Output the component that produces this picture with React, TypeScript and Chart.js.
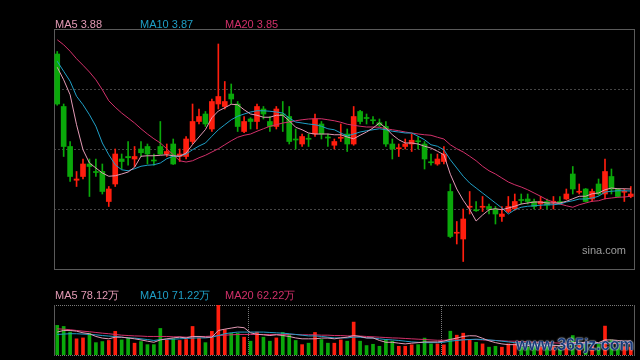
import React, { useEffect, useRef } from "react";
import { Chart, registerables } from "chart.js";

Chart.register(...registerables);

// ---------- daily candles (price) ----------
const OPEN = [
  4.42, 4.21, 4.05, 3.915, 3.93, 3.98, 3.95, 3.95, 3.83, 3.9,
  4.0, 4.01, 4.0, 4.04, 4.05, 3.996, 4.05, 4.02, 4.06, 4.01,
  4.01, 4.07, 4.15, 4.18, 4.12, 4.22, 4.21, 4.26, 4.22, 4.11,
  4.16, 4.15, 4.2, 4.15, 4.13, 4.18, 4.17, 4.08, 4.06, 4.083,
  4.1, 4.14, 4.088, 4.055, 4.083, 4.1, 4.06, 4.19, 4.166, 4.157,
  4.145, 4.13, 4.06, 4.041, 4.05, 4.06, 4.073, 4.06, 3.989, 3.98,
  3.99, 3.87, 3.703, 3.68, 3.807, 3.797, 3.807, 3.81, 3.8, 3.77,
  3.79, 3.8, 3.838, 3.84, 3.83, 3.82, 3.83, 3.827, 3.83, 3.84,
  3.94, 3.867, 3.88, 3.84, 3.9, 3.86, 3.93, 3.88, 3.867, 3.85,
];
const HIGH = [
  4.43, 4.22, 4.07, 3.95, 4.0, 4.0, 4.0, 3.98, 3.89, 4.04,
  4.02, 4.07, 4.05, 4.07, 4.06, 4.02, 4.15, 4.06, 4.08, 4.04,
  4.09, 4.22, 4.2, 4.19, 4.24, 4.46, 4.31, 4.3, 4.23, 4.17,
  4.165, 4.22, 4.21, 4.17, 4.21, 4.23, 4.21, 4.12, 4.1, 4.1,
  4.18, 4.15, 4.1, 4.08, 4.14, 4.12, 4.21, 4.195, 4.18, 4.17,
  4.16, 4.15, 4.08, 4.06, 4.08, 4.1, 4.09, 4.07, 4.02, 4.02,
  4.05, 3.9, 3.75, 3.8, 3.87, 3.83, 3.85, 3.82, 3.81, 3.81,
  3.85, 3.86, 3.86, 3.86, 3.84, 3.85, 3.84, 3.85, 3.85, 3.88,
  3.97, 3.9, 3.882, 3.88, 3.92, 4.0, 3.96, 3.882, 3.88, 3.89,
];
const LOW = [
  4.215, 4.01, 3.91, 3.89, 3.92, 3.85, 3.93, 3.86, 3.81, 3.89,
  3.96, 3.975, 3.97, 4.01, 3.98, 3.975, 4.018, 4.01, 3.978, 3.99,
  4.0, 4.06, 4.14, 4.13, 4.11, 4.2, 4.2, 4.22, 4.11, 4.105,
  4.12, 4.12, 4.16, 4.11, 4.12, 4.11, 4.06, 4.04, 4.05, 4.05,
  4.09, 4.08, 4.05, 4.04, 4.07, 4.03, 4.055, 4.14, 4.14, 4.14,
  4.13, 4.05, 4.0, 4.01, 4.04, 4.03, 4.04, 3.96, 3.975, 3.975,
  3.98, 3.685, 3.66, 3.59, 3.78, 3.79, 3.79, 3.78, 3.74, 3.75,
  3.785, 3.795, 3.82, 3.82, 3.8, 3.8, 3.8, 3.8, 3.82, 3.838,
  3.86, 3.86, 3.828, 3.83, 3.855, 3.84, 3.86, 3.848, 3.83, 3.845,
];
const CLOSE = [
  4.22, 4.05, 3.93, 3.92, 3.98, 3.97, 3.946, 3.87, 3.88, 4.02,
  3.99, 4.005, 4.01, 4.025, 4.02, 3.992, 4.02, 4.03, 3.98, 4.02,
  4.08, 4.15, 4.17, 4.14, 4.23, 4.25, 4.23, 4.24, 4.13, 4.15,
  4.15, 4.21, 4.18, 4.13, 4.2, 4.175, 4.07, 4.076, 4.09, 4.079,
  4.16, 4.1, 4.084, 4.07, 4.087, 4.06, 4.17, 4.15, 4.162, 4.153,
  4.135, 4.06, 4.04, 4.045, 4.06, 4.075, 4.069, 4.0, 3.985, 4.0,
  4.02, 3.69, 3.707, 3.76, 3.811, 3.793, 3.811, 3.8, 3.78, 3.78,
  3.81, 3.83, 3.834, 3.83, 3.81, 3.83, 3.815, 3.831, 3.825, 3.86,
  3.88, 3.871, 3.83, 3.87, 3.86, 3.95, 3.88, 3.85, 3.871, 3.86,
];

// ---------- price moving averages ----------
const MA5 = [
  4.367, 4.317, 4.257, 4.137, 4.037, 3.984, 3.964, 3.944, 3.931, 3.933,
  3.94, 3.948, 3.967, 4.011, 4.013, 4.013, 4.015, 4.017, 4.013, 4.011,
  4.024, 4.058, 4.088, 4.118, 4.165, 4.192, 4.205, 4.219, 4.217, 4.197,
  4.18, 4.175, 4.167, 4.167, 4.175, 4.175, 4.153, 4.127, 4.117, 4.104,
  4.1, 4.1, 4.1, 4.097, 4.097, 4.088, 4.081, 4.095, 4.108, 4.124,
  4.144, 4.124, 4.097, 4.077, 4.064, 4.064, 4.06, 4.051, 4.044, 4.031,
  4.017, 3.939, 3.88, 3.835, 3.798, 3.752, 3.776, 3.797, 3.801, 3.797,
  3.804, 3.811, 3.82, 3.824, 3.828, 3.828, 3.824, 3.824, 3.824, 3.831,
  3.841, 3.851, 3.851, 3.861, 3.864, 3.877, 3.884, 3.881, 3.881, 3.88,
];
const MA10 = [
  4.391, 4.351, 4.311, 4.251, 4.217, 4.177, 4.131, 4.064, 4.017, 3.977,
  3.957, 3.953, 3.961, 3.971, 3.975, 3.977, 3.984, 4.001, 4.011, 4.011,
  4.02, 4.037, 4.052, 4.064, 4.091, 4.117, 4.137, 4.157, 4.171, 4.18,
  4.188, 4.193, 4.193, 4.191, 4.188, 4.184, 4.164, 4.148, 4.144, 4.14,
  4.137, 4.131, 4.121, 4.117, 4.104, 4.092, 4.1, 4.108, 4.113, 4.117,
  4.121, 4.117, 4.111, 4.108, 4.104, 4.104, 4.091, 4.077, 4.057, 4.051,
  4.037, 3.997, 3.964, 3.931, 3.904, 3.884, 3.864, 3.844, 3.824, 3.804,
  3.78, 3.797, 3.807, 3.811, 3.813, 3.815, 3.817, 3.817, 3.82, 3.828,
  3.833, 3.84, 3.84, 3.844, 3.851, 3.868, 3.871, 3.873, 3.873, 3.872,
];
const MA20 = [
  4.477, 4.457, 4.431, 4.401, 4.375, 4.348, 4.317, 4.277, 4.233, 4.207,
  4.184, 4.164, 4.144, 4.121, 4.1, 4.081, 4.064, 4.041, 4.017, 3.993,
  3.988, 3.993, 4.005, 4.015, 4.028, 4.041, 4.057, 4.073, 4.087, 4.095,
  4.1, 4.111, 4.121, 4.131, 4.137, 4.144, 4.148, 4.153, 4.157, 4.16,
  4.161, 4.161, 4.157, 4.153, 4.147, 4.139, 4.135, 4.131, 4.128, 4.128,
  4.127, 4.121, 4.117, 4.113, 4.108, 4.104, 4.1, 4.097, 4.095, 4.087,
  4.08, 4.057, 4.041, 4.028, 4.011, 3.993, 3.971, 3.953, 3.94, 3.924,
  3.908, 3.897, 3.888, 3.877, 3.864, 3.851, 3.837, 3.828, 3.82, 3.813,
  3.807, 3.817, 3.824, 3.831, 3.833, 3.841, 3.844, 3.847, 3.848, 3.851,
];

// ---------- volume (万) ----------
const VOL = [
  163, 157, 126, 89, 94, 120, 68, 74, 80, 130,
  83, 93, 65, 74, 57, 57, 146, 83, 89, 80,
  85, 157, 94, 68, 130, 274, 139, 120, 120, 98,
  76, 126, 98, 76, 94, 124, 113, 80, 57, 65,
  124, 85, 65, 65, 83, 76, 181, 76, 52, 59,
  48, 83, 76, 48, 48, 56, 57, 93, 61, 61,
  56, 131, 109, 120, 83, 70, 61, 43, 48, 43,
  61, 61, 43, 43, 52, 43, 46, 46, 43, 61,
  107, 52, 61, 52, 65, 159, 83, 57, 46, 43,
];
const VOL_MA5 = [
  126, 135, 135, 131, 122, 117, 102, 93, 89, 98,
  98, 94, 89, 83, 76, 70, 83, 89, 94, 98,
  94, 102, 102, 98, 98, 135, 142, 148, 154, 150,
  122, 114, 111, 107, 111, 107, 102, 94, 89, 89,
  89, 93, 93, 89, 94, 98, 107, 102, 94, 94,
  80, 70, 70, 65, 61, 65, 68, 72, 72, 72,
  76, 86, 93, 102, 106, 105, 92, 78, 68, 61,
  57, 57, 54, 52, 54, 50, 52, 52, 52, 57,
  68, 68, 70, 72, 68, 83, 83, 80, 76, 78.12,
];
const VOL_MA10 = [
  113, 115, 117, 117, 115, 113, 111, 107, 104, 102,
  98, 94, 93, 89, 85, 80, 85, 87, 87, 89,
  91, 93, 94, 94, 98, 107, 117, 122, 126, 126,
  126, 126, 126, 124, 122, 120, 117, 113, 109, 105,
  105, 102, 98, 94, 94, 94, 98, 98, 94, 93,
  89, 85, 83, 80, 76, 72, 70, 68, 68, 68,
  70, 76, 80, 83, 85, 87, 85, 83, 80, 76,
  72, 68, 65, 61, 59, 56, 54, 54, 52, 54,
  57, 59, 61, 63, 65, 68, 70, 70, 70, 71.22,
];
const VOL_MA20 = [
  144, 142, 139, 135, 131, 128, 124, 120, 117, 113,
  109, 107, 105, 104, 102, 102, 102, 102, 100, 100,
  98, 100, 102, 102, 104, 107, 109, 111, 113, 113,
  113, 113, 113, 113, 113, 113, 113, 113, 111, 111,
  111, 109, 109, 107, 107, 105, 105, 104, 102, 100,
  98, 96, 94, 93, 91, 89, 87, 85, 83, 81,
  81, 83, 83, 85, 85, 85, 83, 81, 80, 78,
  76, 76, 74, 72, 70, 70, 68, 67, 65, 65,
  65, 63, 63, 63, 63, 63, 63, 63, 63, 62.22,
];

// ---------- axes / layout constants ----------
const PRICE_MIN = 3.56;
const PRICE_MAX = 4.52;
const PRICE_GRID = [3.8, 4.04, 4.28];
const VOL_MAX = 275;
const PERIOD_STARTS = [30, 60];

const RED = "#ff1e0e";
const GREEN = "#0aa80a";
const C_MA5 = "#e39ab5";
const C_MA10 = "#1f9fc6";
const C_MA20 = "#d2306a";
const FRAME = "#5a5a5a";
const GRID = "#444444";
const FONT = '"Liberation Sans", Arial, Helvetica, sans-serif';

const DAYS = OPEN.map((_, i) => `D${i + 1}`);
const COLORS = OPEN.map((o, i) => (CLOSE[i] >= o ? RED : GREEN));
const last = (a: number[]) => a[a.length - 1];

const lineDs = (data: number[], color: string, label: string) => ({
  type: "line" as const,
  label,
  data,
  borderColor: color,
  borderWidth: 1,
  pointRadius: 0,
  tension: 0,
  fill: false,
  order: 0,
});

const mainFrame = {
  id: "mainFrame",
  beforeDatasetsDraw(chart: any) {
    const { ctx, chartArea: a, scales } = chart;
    const y = scales.y;
    ctx.save();
    ctx.lineWidth = 1;
    ctx.strokeStyle = GRID;
    ctx.setLineDash([2, 2]);
    for (const v of PRICE_GRID) {
      const py = Math.round(y.getPixelForValue(v)) + 0.5;
      ctx.beginPath();
      ctx.moveTo(a.left, py);
      ctx.lineTo(a.right, py);
      ctx.stroke();
    }
    ctx.setLineDash([]);
    ctx.strokeStyle = FRAME;
    ctx.strokeRect(a.left + 0.5, a.top + 0.5, a.right - a.left, a.bottom - a.top);
    ctx.restore();
  },
};

const volFrame = {
  id: "volFrame",
  beforeDatasetsDraw(chart: any) {
    const { ctx, chartArea: a, scales } = chart;
    const x = scales.x;
    ctx.save();
    ctx.lineWidth = 1;
    ctx.strokeStyle = "#7a7a7a";
    ctx.setLineDash([1, 1]);
    for (const py of [a.top + 0.5, a.bottom + 0.5]) {
      ctx.beginPath();
      ctx.moveTo(a.left, py);
      ctx.lineTo(a.right, py);
      ctx.stroke();
    }
    for (const s of PERIOD_STARTS) {
      const px = Math.floor(x.getPixelForValue(s) - 2) + 0.5;
      ctx.beginPath();
      ctx.moveTo(px, a.top);
      ctx.lineTo(px, a.bottom);
      ctx.stroke();
    }
    ctx.setLineDash([]);
    ctx.strokeStyle = FRAME;
    ctx.beginPath();
    ctx.moveTo(a.left + 0.5, a.top);
    ctx.lineTo(a.left + 0.5, a.bottom + 1);
    ctx.moveTo(a.right + 0.5, a.top);
    ctx.lineTo(a.right + 0.5, a.bottom + 1);
    ctx.stroke();
    ctx.restore();
  },
};

const baseOptions = (pad: any, yMin: number, yMax: number) => ({
  responsive: false,
  animation: false as const,
  devicePixelRatio: 1,
  layout: { padding: pad },
  plugins: { legend: { display: false }, tooltip: { enabled: false } },
  events: [] as any[],
  scales: {
    x: { type: "category" as const, display: false, offset: true },
    y: { display: false, min: yMin, max: yMax },
  },
});

export default function App() {
  const mainRef = useRef<HTMLCanvasElement>(null);
  const volRef = useRef<HTMLCanvasElement>(null);

  useEffect(() => {
    const main = new Chart(mainRef.current as HTMLCanvasElement, {
      type: "bar",
      data: {
        labels: DAYS,
        datasets: [
          lineDs(MA5, C_MA5, "MA5"),
          lineDs(MA10, C_MA10, "MA10"),
          lineDs(MA20, C_MA20, "MA20"),
          {
            type: "bar",
            label: "body",
            data: OPEN.map((o, i) => [o, CLOSE[i]]),
            backgroundColor: COLORS,
            barThickness: 5,
            grouped: false,
            minBarLength: 1,
            order: 1,
          },
          {
            type: "bar",
            label: "wick",
            data: LOW.map((l, i) => [l, HIGH[i]]),
            backgroundColor: COLORS,
            barThickness: 1,
            grouped: false,
            order: 2,
          },
        ] as any,
      },
      options: baseOptions({ left: 54, right: 6, top: 29, bottom: 11 }, PRICE_MIN, PRICE_MAX) as any,
      plugins: [mainFrame],
    });

    const vol = new Chart(volRef.current as HTMLCanvasElement, {
      type: "bar",
      data: {
        labels: DAYS,
        datasets: [
          lineDs(VOL_MA5, C_MA5, "VMA5"),
          lineDs(VOL_MA10, C_MA10, "VMA10"),
          lineDs(VOL_MA20, C_MA20, "VMA20"),
          {
            type: "bar",
            label: "volume",
            data: VOL,
            backgroundColor: COLORS,
            barThickness: 3,
            grouped: false,
            order: 1,
          },
        ] as any,
      },
      options: baseOptions({ left: 54, right: 6, top: 25, bottom: 5 }, 0, VOL_MAX) as any,
      plugins: [volFrame],
    });

    return () => {
      main.destroy();
      vol.destroy();
    };
  }, []);

  const label = (left: number, top: number, color: string, text: string) => (
    <span
      style={{
        position: "absolute",
        left,
        top,
        color,
        font: `11px ${FONT}`,
        lineHeight: "11px",
        whiteSpace: "nowrap",
      }}
    >
      {text}
    </span>
  );

  return (
    <div
      style={{
        position: "fixed",
        left: 0,
        top: 0,
        width: 640,
        height: 360,
        background: "#000",
        overflow: "hidden",
      }}
    >
      <canvas
        ref={mainRef}
        width={640}
        height={280}
        style={{ position: "absolute", left: 0, top: 0, width: 640, height: 280 }}
      />
      <canvas
        ref={volRef}
        width={640}
        height={80}
        style={{ position: "absolute", left: 0, top: 280, width: 640, height: 80 }}
      />
      {label(55, 19, C_MA5, `MA5 ${last(MA5).toFixed(2)}`)}
      {label(140, 19, C_MA10, `MA10 ${last(MA10).toFixed(2)}`)}
      {label(225, 19, C_MA20, `MA20 ${last(MA20).toFixed(2)}`)}
      {label(55, 290, C_MA5, `MA5 ${last(VOL_MA5).toFixed(2)}万`)}
      {label(140, 290, C_MA10, `MA10 ${last(VOL_MA10).toFixed(2)}万`)}
      {label(225, 290, C_MA20, `MA20 ${last(VOL_MA20).toFixed(2)}万`)}
      {label(582, 245, "#9c9c9c", "sina.com")}
      <span
        style={{
          position: "absolute",
          left: 516,
          top: 336,
          color: "#1a3a78",
          font: `bold 16px ${FONT}`,
          lineHeight: "17px",
          whiteSpace: "nowrap",
          textShadow: "0 0 2px #e6eefa, 0 0 1px #ffffff",
        }}
      >
        www.365jz.com
      </span>
    </div>
  );
}
